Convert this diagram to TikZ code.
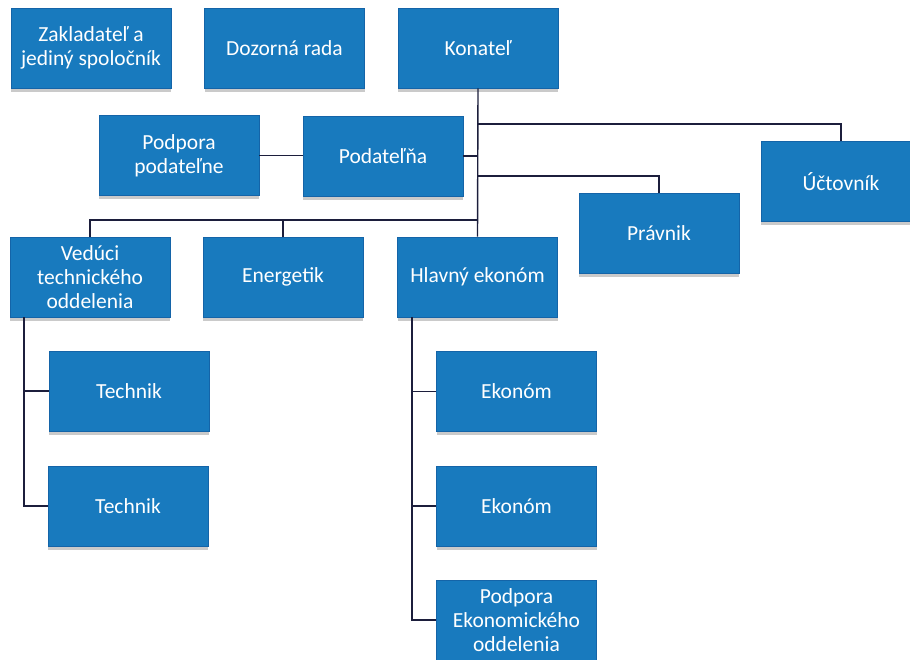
\documentclass[tikz,border=0pt]{standalone}
\usepackage{fontspec}
\setmainfont{Carlito}
\usetikzlibrary{shadows}
\definecolor{boxblue}{RGB}{24,122,190}
\definecolor{boxedge}{RGB}{20,100,168}
\definecolor{linec}{RGB}{28,30,60}
\begin{document}
\begin{tikzpicture}[x=1pt,y=-1pt,
  orgbox/.style={rectangle, fill=boxblue, draw=boxedge, line width=0.6pt,
    minimum width=160pt, minimum height=80pt, inner sep=2pt,
    text=white, align=center, font=\fontsize{21.5}{24}\selectfont,
    drop shadow={shadow xshift=0pt, shadow yshift=-3.5pt, opacity=0.35, fill=black!60}},
  conn/.style={draw=linec, line width=1.4pt}]
\useasboundingbox (0,0) rectangle (910,659);
\node[orgbox] (zak) at (91,48) {Zakladateľ a\\jediný spoločník};
\node[orgbox] (doz) at (284.5,48) {Dozorná rada};
\node[orgbox] (kon) at (478,48) {Konateľ};
\node[orgbox] (podp) at (179,155.5) {Podpora\\podateľne};
\node[orgbox] (poda) at (383,156) {Podateľňa};
\node[orgbox] (ucto) at (841,181.5) {Účtovník};
\node[orgbox] (prav) at (659,233) {Právnik};
\node[orgbox] (ved) at (90,277) {Vedúci\\technického\\oddelenia};
\node[orgbox] (ener) at (283,277) {Energetik};
\node[orgbox] (hlav) at (477.5,277) {Hlavný ekonóm};
\node[orgbox] (tech1) at (129,391) {Technik};
\node[orgbox] (tech2) at (128,506) {Technik};
\node[orgbox] (eko1) at (516.5,391.5) {Ekonóm};
\node[orgbox] (eko2) at (516.5,506) {Ekonóm};
\node[orgbox] (pek) at (516.5,620) {Podpora\\Ekonomického\\oddelenia};
\coordinate (tU) at (478,124);
\coordinate (tP) at (478,176);
\coordinate (tB) at (478,220);
\coordinate (vL) at (24,317);
\coordinate (hL) at (412,317);
\draw[conn] (kon.south) -- (hlav.north);
\draw[conn] (poda.east) -- (poda.east -| kon.south);
\draw[conn] (podp.east) -- (podp.east -| poda.west);
\draw[conn] (tU) -| (ucto.north);
\draw[conn] (tP) -| (prav.north);
\draw[conn] (tB) -| (ved.north);
\draw[conn] (tB -| ener.north) -- (ener.north);
\draw[conn] (vL) |- (tech2.west);
\draw[conn] (vL |- tech1.west) -- (tech1.west);
\draw[conn] (hL) |- (pek.west);
\draw[conn] (hL |- eko1.west) -- (eko1.west);
\draw[conn] (hL |- eko2.west) -- (eko2.west);
\end{tikzpicture}
\end{document}
